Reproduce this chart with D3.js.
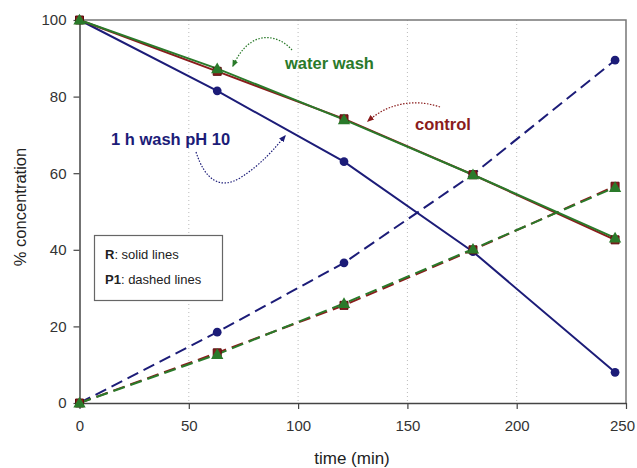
<!DOCTYPE html>
<meta charset="utf-8">
<style>
body { margin: 0; background: #fff; }
text { font-family: Arial, "Liberation Sans", Helvetica, sans-serif; }
.tick text { font-size: 15px; fill: #333; }
.ann { font-weight: bold; font-size: 16.5px; }
</style>
<div id="chart"></div>
<script src="https://cdn.jsdelivr.net/npm/d3@7"></script>
<script>

var times = [0, 63, 121, 180, 245];
var xTicks = [0, 50, 100, 150, 200, 250];
var yTicks = [0, 20, 40, 60, 80, 100];

// R = solid, P1 = dashed
var washR = [100, 81.5, 63, 39.5, 8];
var washP1 = [0, 18.5, 36.6, 59.7, 89.5];
var controlR = [100, 86.6, 74.2, 59.6, 42.6];
var controlP1 = [0, 13.1, 25.5, 40.0, 56.6];
var waterR = [100, 87.3, 74.0, 59.6, 43.1];
var waterP1 = [0, 12.7, 26.0, 40.2, 56.3];

var width = 637, height = 468;
var margin = {left: 79.5, right: 11, top: 20, bottom: 65};

var svg = d3.select("#chart").append("svg")
    .attr("width", width).attr("height", height);

var x = d3.scaleLinear().domain([0, 250]).range([margin.left, width - margin.right]);
var y = d3.scaleLinear().domain([0, 100]).range([height - margin.bottom, margin.top]);

// dotted vertical grid
svg.append("g").selectAll("line").data(xTicks.slice(1, -1)).enter().append("line")
    .attr("x1", d => x(d)).attr("x2", d => x(d))
    .attr("y1", y(100)).attr("y2", y(0))
    .attr("stroke", "#bbb").attr("stroke-width", 1).attr("stroke-dasharray", "1,3");

// frame top/right
svg.append("path")
    .attr("d", `M${x(0)},${y(100)}H${x(250)}V${y(0)}`)
    .attr("fill", "none").attr("stroke", "#777").attr("stroke-width", 1.5);

var xAxis = svg.append("g")
    .attr("transform", `translate(0,${y(0)})`)
    .call(d3.axisBottom(x).tickValues(xTicks).tickSize(6).tickPadding(11).tickSizeOuter(0));
var yAxis = svg.append("g")
    .attr("transform", `translate(${x(0)},0)`)
    .call(d3.axisLeft(y).tickValues(yTicks).tickSize(6).tickPadding(7).tickSizeOuter(0));
[xAxis, yAxis].forEach(function(a) {
  a.select(".domain").attr("stroke", "#444").attr("stroke-width", 1.5);
  a.selectAll(".tick line").attr("stroke", "#444").attr("stroke-width", 1.2);
});
// keep the last x label inside the window
xAxis.selectAll(".tick text").filter(d => d == 250).attr("dx", -4);

svg.append("text").attr("x", 352).attr("y", 464).attr("text-anchor", "middle")
    .attr("font-size", 17).attr("fill", "#222").text("time (min)");
svg.append("text").attr("transform", `translate(26,207) rotate(-90)`)
    .attr("text-anchor", "middle").attr("font-size", 16.5).attr("fill", "#222").text("% concentration");

var navy = "#1c1c78", red = "#8a1c1c", green = "#2a7a2a";

var series = [
  {vals: washR, color: navy, dash: null, mark: "circle"},
  {vals: washP1, color: navy, dash: "12,6", mark: "circle"},
  {vals: controlR, color: red, dash: null, mark: "square"},
  {vals: controlP1, color: red, dash: "12,6", mark: "square"},
  {vals: waterR, color: green, dash: null, mark: "triangle"},
  {vals: waterP1, color: green, dash: "12,6", mark: "triangle"}
];

var line = d3.line().x((d, i) => x(times[i])).y(d => y(d));

series.forEach(function(s) {
  svg.append("path").datum(s.vals)
      .attr("d", line)
      .attr("fill", "none").attr("stroke", s.color).attr("stroke-width", 2)
      .attr("stroke-dasharray", s.dash);
});

var sym = {
  circle: d3.symbol().type(d3.symbolCircle).size(60),
  square: d3.symbol().type(d3.symbolSquare).size(64),
  triangle: d3.symbol().type(d3.symbolTriangle).size(66)
};
series.forEach(function(s) {
  svg.append("g").selectAll("path").data(s.vals).enter().append("path")
      .attr("d", sym[s.mark])
      .attr("transform", (d, i) => `translate(${x(times[i])},${y(d) + (s.mark == "triangle" ? 1 : 0)})`)
      .attr("fill", s.color)
      .attr("stroke", s.mark == "square" ? "#5a0d0d" : "none");
});

// annotations
var defs = svg.append("defs");
[["aNavy", navy], ["aRed", red], ["aGreen", green]].forEach(function(m) {
  defs.append("marker").attr("id", m[0]).attr("viewBox", "0 0 10 10")
      .attr("refX", 8).attr("refY", 5).attr("markerWidth", 6).attr("markerHeight", 6)
      .attr("orient", "auto")
    .append("path").attr("d", "M0,1L10,5L0,9Z").attr("fill", m[1]);
});

var ann = [
  {text: "water wash", tx: 285, ty: 69, color: green, arrow: "M292,50 C278,34 250,28 233,66", mk: "aGreen"},
  {text: "control", tx: 415, ty: 130, color: red, arrow: "M440,107 C420,100 392,100 368,121", mk: "aRed"},
  {text: "1 h wash pH 10", tx: 111, ty: 145, color: navy, arrow: "M196,152 C205,180 220,190 240,178 C262,164 275,148 285,136", mk: "aNavy"}
];
ann.forEach(function(a) {
  svg.append("path").attr("d", a.arrow).attr("fill", "none")
      .attr("stroke", a.color).attr("stroke-width", 1.2).attr("stroke-dasharray", "1.5,1.5")
      .attr("marker-end", `url(#${a.mk})`);
  svg.append("text").attr("class", "ann").attr("x", a.tx).attr("y", a.ty)
      .attr("fill", a.color).text(a.text);
});

// R / P1 box
svg.append("rect").attr("x", 94.5).attr("y", 235.5).attr("width", 128).attr("height", 65)
    .attr("fill", "#fff").attr("stroke", "#666").attr("stroke-width", 1.2);
var keyLines = [["R", ": solid lines"], ["P1", ": dashed lines"]];
keyLines.forEach(function(k, i) {
  var t = svg.append("text").attr("x", 105).attr("y", 259 + i * 25)
      .attr("font-size", 13).attr("fill", "#222");
  t.append("tspan").attr("font-weight", "bold").text(k[0]);
  t.append("tspan").text(k[1]);
});

</script>
